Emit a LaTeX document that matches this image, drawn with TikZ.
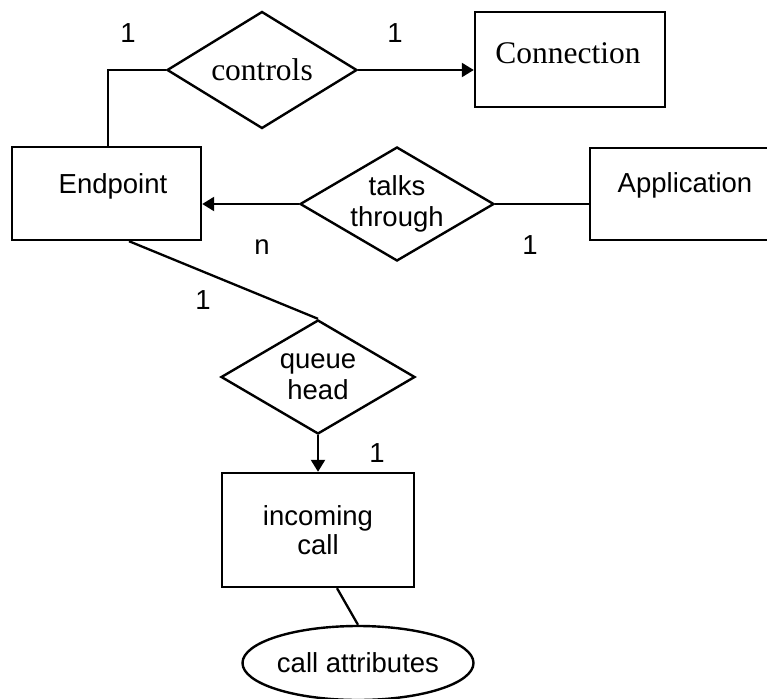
\documentclass[tikz,border=0pt]{standalone}
\usepackage{fontspec}
\setmainfont{Liberation Sans}
\newfontfamily\timesfont{Liberation Serif}
\usetikzlibrary{shapes.geometric,arrows.meta}
\begin{document}
\begin{tikzpicture}[x=1pt,y=-1pt,
  every node/.style={font=\fontsize{27.5}{29}\selectfont},
  ent/.style={draw, line width=2.4pt, rectangle, inner sep=0pt},
  rel/.style={draw, line width=2.4pt, diamond, inner sep=0pt, shape aspect=1.65, align=center,
    font=\fontsize{27.5}{31}\selectfont},
  att/.style={draw, line width=2.4pt, ellipse, inner sep=0pt},
  card/.style={inner sep=0pt},
  serif/.style={font=\timesfont\fontsize{31.5}{34}\selectfont},
  conn/.style={line width=2.3pt},
  arr/.style={conn, -{Triangle[length=12pt,width=14pt]}},
]
\useasboundingbox (0,0) rectangle (767,698);
\clip (0,0) rectangle (767,698);

% entities
\node[ent, minimum width=190pt, minimum height=95pt] (connection) at (570,59.5) {};
\node[serif, inner sep=0pt] (connection-t) at (568,53) {Connection};
\node[ent, minimum width=189pt, minimum height=93pt] (endpoint) at (106.5,193.5) {};
\node[inner sep=0pt] (endpoint-t) at (113,186) {Endpoint};
\node[ent, minimum width=190pt, minimum height=92pt] (application) at (685,194) {};
\node[inner sep=0pt] (application-t) at (685,185) {Application};
\node[ent, minimum width=192pt, minimum height=114pt, align=center] (inccall) at (318,530) {incoming\\call};

% relationships
\node[rel, serif, minimum width=190pt, minimum height=117pt] (controls) at (262,70) {controls};
\node[rel, minimum width=194pt, minimum height=114pt] (talks) at (397,204) {talks\\through};
\node[rel, minimum width=194pt, minimum height=114pt] (queue) at (318,377) {queue\\head};

% attribute
\node[att, minimum width=231pt, minimum height=74pt] (attrs) at (358,663) {call attributes};

% connectors
\draw[conn] (controls.west) -| ([xshift=1.5pt]endpoint.north);
\draw[arr] (controls.east) -- (controls.east -| connection.west);
\draw[arr] (talks.west) -- (talks.west -| endpoint.east);
\draw[conn] (talks.east) -- (talks.east -| application.west);
\draw[conn] ([xshift=22.5pt]endpoint.south) -- (queue.north);
\draw[arr] (queue.south) -- (queue.south |- inccall.north);
\draw[conn] ([xshift=19pt]inccall.south) -- (attrs.north);

% cardinalities
\node[card] (card-ep-ctrl) at (128,33) {1};
\node[card] (card-ctrl-conn) at (395,33) {1};
\node[card] (card-ep-talks) at (262,247) {n};
\node[card] (card-app-talks) at (530,245) {1};
\node[card] (card-ep-queue) at (203,300) {1};
\node[card] (card-queue-call) at (377,453) {1};
\end{tikzpicture}
\end{document}
